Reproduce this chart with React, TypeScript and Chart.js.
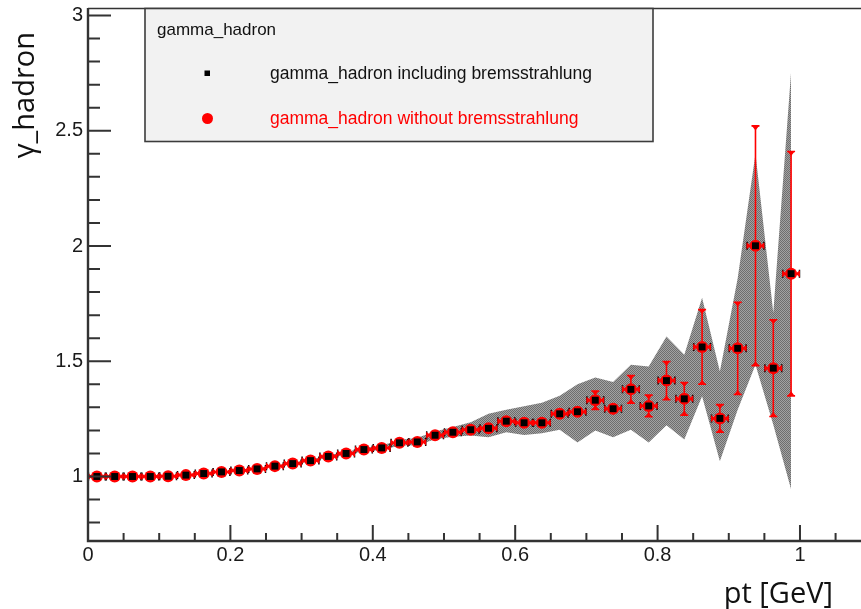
import React, { useEffect, useRef } from "react";
import { Chart, registerables } from "chart.js";

Chart.register(...registerables);

// ---------------- data ----------------
const binCenters = [
  0.0125, 0.0375, 0.0625, 0.0875, 0.1125, 0.1375, 0.1625, 0.1875, 0.2125, 0.2375,
  0.2625, 0.2875, 0.3125, 0.3375, 0.3625, 0.3875, 0.4125, 0.4375, 0.4625, 0.4875,
  0.5125, 0.5375, 0.5625, 0.5875, 0.6125, 0.6375, 0.6625, 0.6875, 0.7125, 0.7375,
  0.7625, 0.7875, 0.8125, 0.8375, 0.8625, 0.8875, 0.9125, 0.9375, 0.9625, 0.9875,
];
const binHalfWidth = 0.0125;

// gamma_hadron without bremsstrahlung (red)
const withoutBrems = [
  1.0, 1.0, 1.0, 1.0, 1.001, 1.006, 1.013, 1.02, 1.026, 1.033,
  1.045, 1.056, 1.069, 1.087, 1.1, 1.117, 1.124, 1.146, 1.15, 1.179,
  1.192, 1.203, 1.209, 1.24, 1.233, 1.233, 1.272, 1.281, 1.331, 1.294,
  1.378, 1.306, 1.416, 1.337, 1.562, 1.252, 1.556, 2.001, 1.47, 1.88,
];
const withoutBremsErr = [
  0.003, 0.003, 0.003, 0.003, 0.003, 0.003, 0.003, 0.004, 0.004, 0.004,
  0.004, 0.005, 0.005, 0.005, 0.005, 0.006, 0.006, 0.006, 0.007, 0.007,
  0.008, 0.008, 0.009, 0.01, 0.011, 0.012, 0.014, 0.015, 0.04, 0.025,
  0.06, 0.047, 0.083, 0.071, 0.162, 0.06, 0.2, 0.52, 0.21, 0.53,
];

// gamma_hadron including bremsstrahlung (black)
const includingBrems = [
  1.0, 1.0, 1.0, 1.0, 1.001, 1.006, 1.013, 1.02, 1.026, 1.033,
  1.045, 1.056, 1.069, 1.087, 1.1, 1.117, 1.124, 1.146, 1.15, 1.179,
  1.192, 1.203, 1.209, 1.24, 1.233, 1.233, 1.272, 1.281, 1.331, 1.294,
  1.378, 1.306, 1.416, 1.337, 1.562, 1.252, 1.556, 2.001, 1.47, 1.88,
];
// error band of the "including" series
const bandHigh = [
  1.003, 1.003, 1.003, 1.003, 1.004, 1.009, 1.016, 1.023, 1.029, 1.036,
  1.048, 1.06, 1.073, 1.092, 1.106, 1.124, 1.134, 1.158, 1.168, 1.195,
  1.215, 1.235, 1.272, 1.29, 1.305, 1.32, 1.35, 1.4, 1.43, 1.41,
  1.485, 1.477, 1.607, 1.528, 1.775, 1.456, 1.86, 2.4, 1.71, 2.755,
];
const bandLow = [
  0.997, 0.997, 0.997, 0.997, 0.998, 1.003, 1.01, 1.017, 1.023, 1.03,
  1.042, 1.052, 1.065, 1.082, 1.094, 1.11, 1.114, 1.134, 1.136, 1.162,
  1.172, 1.178, 1.17, 1.192, 1.18, 1.188, 1.203, 1.148, 1.2, 1.17,
  1.203, 1.147, 1.222, 1.16, 1.348, 1.066, 1.29, 1.485, 1.225, 0.945,
];

const xTickValues = [0, 0.2, 0.4, 0.6, 0.8, 1];
const xTickLabels = ["0", "0.2", "0.4", "0.6", "0.8", "1"];
const yTickValues = [1, 1.5, 2, 2.5, 3];
const yTickLabels = ["1", "1.5", "2", "2.5", "3"];

const xAxisTitle = "pt [GeV]";
const yAxisTitle = "γ_hadron";
const legendTitle = "gamma_hadron";
const labelIncluding = "gamma_hadron including bremsstrahlung";
const labelWithout = "gamma_hadron without bremsstrahlung";

// ---------------- styles ----------------
const RED = "#ff0000";
const AXIS = "#333333";
const TEXT = "#111111";
const SANS = '"Liberation Sans", Arial, sans-serif';
const TITLE_FONT = '29px "Open Sans", "Noto Sans", sans-serif';

const pts = (ys: number[]) => ys.map((v, i) => ({ x: binCenters[i], y: v }));

const errorBarsPlugin = {
  id: "errorBars",
  beforeDatasetDraw(chart: any, args: any) {
    if (args.index !== 2) return;
    const { ctx } = chart;
    const x = chart.scales.x;
    const y = chart.scales.y;
    ctx.save();
    // black bin-edge ticks of the "including" series
    ctx.strokeStyle = "#000";
    ctx.lineWidth = 1.5;
    binCenters.forEach((c, i) => {
      const py = y.getPixelForValue(includingBrems[i]);
      const xl = x.getPixelForValue(c - binHalfWidth);
      const xr = x.getPixelForValue(c + binHalfWidth);
      ctx.beginPath();
      ctx.moveTo(xl, py);
      ctx.lineTo(xr, py);
      ctx.moveTo(xl + 0.5, py - 4);
      ctx.lineTo(xl + 0.5, py + 4);
      ctx.moveTo(xr - 0.5, py - 4);
      ctx.lineTo(xr - 0.5, py + 4);
      ctx.stroke();
    });
    // red error bars
    ctx.strokeStyle = RED;
    ctx.fillStyle = RED;
    ctx.lineWidth = 1.6;
    binCenters.forEach((c, i) => {
      const v = withoutBrems[i];
      const e = withoutBremsErr[i];
      const px = x.getPixelForValue(c);
      const py = y.getPixelForValue(v);
      const xl = x.getPixelForValue(c - binHalfWidth);
      const xr = x.getPixelForValue(c + binHalfWidth);
      const yt = y.getPixelForValue(v + e);
      const yb = y.getPixelForValue(v - e);
      ctx.beginPath();
      ctx.moveTo(xl, py);
      ctx.lineTo(xr, py);
      ctx.moveTo(px, yt);
      ctx.lineTo(px, yb);
      ctx.stroke();
      ctx.beginPath();
      ctx.moveTo(xl, py - 3.5);
      ctx.lineTo(xl, py + 3.5);
      ctx.lineTo(xl + 4.5, py);
      ctx.closePath();
      ctx.moveTo(xr, py - 3.5);
      ctx.lineTo(xr, py + 3.5);
      ctx.lineTo(xr - 4.5, py);
      ctx.closePath();
      ctx.fill();
      if (py - yt > 6.5) {
        ctx.beginPath();
        ctx.moveTo(px - 3.5, yt);
        ctx.lineTo(px + 3.5, yt);
        ctx.lineTo(px, yt + 4.5);
        ctx.closePath();
        ctx.moveTo(px - 3.5, yb);
        ctx.lineTo(px + 3.5, yb);
        ctx.lineTo(px, yb - 4.5);
        ctx.closePath();
        ctx.fill();
        ctx.beginPath();
        ctx.moveTo(px - 4, yt);
        ctx.lineTo(px + 4, yt);
        ctx.moveTo(px - 4, yb);
        ctx.lineTo(px + 4, yb);
        ctx.stroke();
      }
    });
    ctx.restore();
  },
};

const framePlugin = {
  id: "rootFrame",
  afterDraw(chart: any) {
    const { ctx, chartArea: a } = chart;
    const x = chart.scales.x;
    const y = chart.scales.y;
    ctx.save();
    // axis lines
    ctx.strokeStyle = AXIS;
    ctx.lineCap = "butt";
    ctx.lineWidth = 1.6;
    ctx.beginPath();
    ctx.moveTo(a.left, a.top + 0.5);
    ctx.lineTo(a.right, a.top + 0.5);
    ctx.stroke();
    ctx.lineWidth = 2.4;
    ctx.beginPath();
    ctx.moveTo(a.left, a.top);
    ctx.lineTo(a.left, a.bottom);
    ctx.lineTo(a.right, a.bottom);
    ctx.stroke();
    // ticks (drawn inward, ROOT style)
    ctx.lineWidth = 2;
    ctx.beginPath();
    for (let k = 8; k <= 30; k++) {
      const py = y.getPixelForValue(k / 10);
      const len = k % 5 === 0 ? 23 : 12;
      ctx.moveTo(a.left, py);
      ctx.lineTo(a.left + len, py);
    }
    for (let k = 1; k <= 21; k++) {
      const px = x.getPixelForValue(k * 0.05);
      const len = k % 4 === 0 ? 16 : 8;
      ctx.moveTo(px, a.bottom);
      ctx.lineTo(px, a.bottom - len);
    }
    ctx.stroke();

    // axis titles
    ctx.fillStyle = TEXT;
    ctx.font = TITLE_FONT;
    ctx.textBaseline = "alphabetic";
    ctx.textAlign = "right";
    ctx.fillText(xAxisTitle, 833, 603);
    ctx.save();
    ctx.translate(33.5, 32);
    ctx.rotate(-Math.PI / 2);
    ctx.textAlign = "right";
    ctx.fillText(yAxisTitle, 0, 0);
    ctx.restore();

    // legend box
    const lx = 145, ly = 8.5, lw = 508, lh = 133;
    ctx.fillStyle = "#f2f2f2";
    ctx.fillRect(lx, ly, lw, lh);
    ctx.strokeStyle = "#3c3c3c";
    ctx.lineWidth = 1.6;
    ctx.strokeRect(lx, ly, lw, lh);
    ctx.textAlign = "left";
    ctx.font = `17px ${SANS}`;
    ctx.fillStyle = TEXT;
    ctx.fillText(legendTitle, 157, 35);
    const dsInc = chart.data.datasets[3];
    const dsWo = chart.data.datasets[2];
    ctx.fillStyle = "#000";
    ctx.fillRect(204.5, 70.5, 5.5, 5.5);
    ctx.fillStyle = TEXT;
    ctx.font = `17.5px ${SANS}`;
    ctx.fillText(dsInc.label, 270, 79);
    ctx.fillStyle = RED;
    ctx.beginPath();
    ctx.arc(207.5, 118.5, 5.5, 0, Math.PI * 2);
    ctx.fill();
    ctx.fillText(dsWo.label, 270, 123.5);
    ctx.restore();
  },
};

export default function App() {
  const ref = useRef<HTMLCanvasElement>(null);
  useEffect(() => {
    const canvas = ref.current!;
    const c2d = canvas.getContext("2d")!;
    const pc = document.createElement("canvas");
    pc.width = 2;
    pc.height = 2;
    const pctx = pc.getContext("2d")!;
    pctx.fillStyle = "#a2a2a2";
    pctx.fillRect(0, 0, 2, 2);
    pctx.fillStyle = "#6e6e6e";
    pctx.fillRect(0, 0, 1, 1);
    pctx.fillRect(1, 1, 1, 1);
    const pattern = c2d.createPattern(pc, "repeat");

    const chart = new Chart(canvas, {
      type: "line",
      data: {
        datasets: [
          {
            label: "band high",
            data: pts(bandHigh),
            borderWidth: 0,
            borderColor: "rgba(0,0,0,0)",
            pointRadius: 0,
            fill: false,
            order: 3,
          },
          {
            label: "band low",
            data: pts(bandLow),
            borderWidth: 0,
            borderColor: "rgba(0,0,0,0)",
            backgroundColor: pattern as any,
            pointRadius: 0,
            fill: "-1",
            order: 3,
          },
          {
            label: labelWithout,
            data: pts(withoutBrems),
            showLine: false,
            pointStyle: "circle",
            pointRadius: 6,
            pointBackgroundColor: RED,
            pointBorderColor: RED,
            pointBorderWidth: 0,
            order: 2,
          },
          {
            label: labelIncluding,
            data: pts(includingBrems),
            showLine: false,
            pointStyle: "rect",
            pointRadius: 4.9,
            pointBackgroundColor: "#000",
            pointBorderColor: "#000",
            pointBorderWidth: 0,
            order: 1,
          },
        ],
      } as any,
      options: {
        responsive: false,
        animation: false,
        events: [],
        layout: { autoPadding: false, padding: { top: 8, left: 0, right: 0, bottom: 0 } },
        plugins: { legend: { display: false }, tooltip: { enabled: false } },
        scales: {
          x: {
            type: "linear",
            min: 0,
            max: 1.0857,
            grid: { display: false, drawTicks: false },
            border: { display: false },
            ticks: {
              padding: 2,
              color: "#1a1a1a",
              font: { family: SANS, size: 20 },
              maxRotation: 0,
              autoSkip: false,
              callback: (v: any) => {
                const i = xTickValues.indexOf(Number(v));
                return i >= 0 ? xTickLabels[i] : "";
              },
            },
            afterBuildTicks: (s: any) => {
              s.ticks = xTickValues.map((value) => ({ value }));
            },
            afterFit: (s: any) => {
              s.height = 68;
              s.paddingLeft = 0;
              s.paddingRight = 0;
              s.paddingTop = 0;
              s.paddingBottom = 0;
            },
          },
          y: {
            type: "linear",
            min: 0.7202,
            max: 3.0325,
            grid: { display: false, drawTicks: false },
            border: { display: false },
            ticks: {
              padding: 5,
              color: "#1a1a1a",
              font: { family: SANS, size: 20 },
              autoSkip: false,
              callback: (v: any) => {
                const i = yTickValues.indexOf(Number(v));
                return i >= 0 ? yTickLabels[i] : "";
              },
            },
            afterBuildTicks: (s: any) => {
              s.ticks = yTickValues.map((value) => ({ value }));
            },
            afterFit: (s: any) => {
              s.width = 88;
              s.paddingLeft = 0;
              s.paddingRight = 0;
              s.paddingTop = 0;
              s.paddingBottom = 0;
            },
          },
        },
      } as any,
      plugins: [errorBarsPlugin, framePlugin],
    });
    return () => chart.destroy();
  }, []);

  return (
    <div style={{ position: "absolute", left: 0, top: 0, width: 861, height: 609, background: "#fff" }}>
      <canvas ref={ref} width={861} height={609} style={{ display: "block" }} />
    </div>
  );
}
